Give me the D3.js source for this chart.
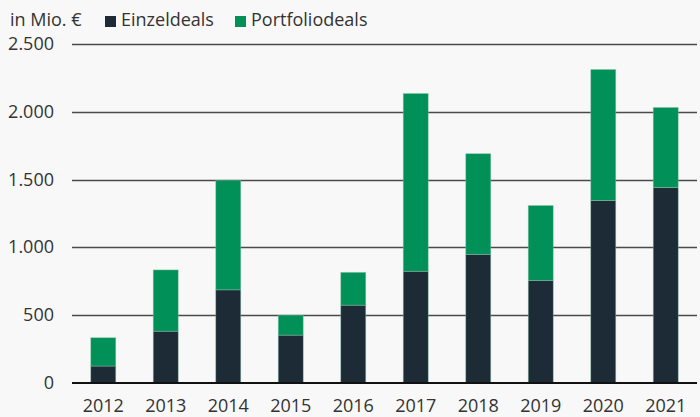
<!DOCTYPE html>
<html>
<head>
<meta charset="utf-8">
<script src="https://cdn.jsdelivr.net/npm/d3@7"></script>
<style>
  body { margin: 0; background: #f8f8f8; }
  svg { display: block; font-family: "Open Sans", sans-serif; }
</style>
</head>
<body>
<script>
// chart data
var years = ["2012", "2013", "2014", "2015", "2016", "2017", "2018", "2019", "2020", "2021"];
var einzeldeals = [125, 382, 687, 353, 574, 824, 949, 757, 1346, 1441];
var portfoliodeals = [209, 452, 808, 147, 242, 1311, 742, 552, 966, 591];
var yTicks = [0, 500, 1000, 1500, 2000, 2500];
var seriesNames = ["Einzeldeals", "Portfoliodeals"];
var colors = ["#1c2b36", "#009058"];

var width = 700, height = 417;
var margin = { top: 44, right: 3, bottom: 34, left: 72 };

var svg = d3.select("body").append("svg")
    .attr("width", width)
    .attr("height", height);

svg.append("rect")
    .attr("width", width)
    .attr("height", height)
    .attr("fill", "#f8f8f8");

var x = d3.scaleBand()
    .domain(years)
    .range([margin.left, width - margin.right])
    .paddingInner(0.6)
    .paddingOuter(0.3);

var y = d3.scaleLinear()
    .domain([0, 2500])
    .range([height - margin.bottom, margin.top]);

// gridlines
svg.selectAll(".grid")
    .data(yTicks.filter(function(d) { return d > 0; }))
    .enter().append("line")
    .attr("class", "grid")
    .attr("x1", margin.left)
    .attr("x2", width - margin.right)
    .attr("y1", function(d) { return Math.round(y(d)) + 0.5; })
    .attr("y2", function(d) { return Math.round(y(d)) + 0.5; })
    .attr("stroke", "#4a4a4a")
    .attr("stroke-width", 1.3);

// y labels
svg.selectAll(".ylab")
    .data(yTicks)
    .enter().append("text")
    .attr("class", "ylab")
    .attr("x", 54)
    .attr("y", function(d) { return y(d) + 6; })
    .attr("text-anchor", "end")
    .attr("font-size", 18)
    .attr("fill", "#333")
    .text(function(d) { return d3.format(",")(d).replace(/,/g, "."); });

// stacked bars
var rows = years.map(function(yr, i) {
    return { year: yr, Einzeldeals: einzeldeals[i], Portfoliodeals: portfoliodeals[i] };
});
var stack = d3.stack().keys(seriesNames)(rows);

svg.selectAll(".series")
    .data(stack)
    .enter().append("g")
    .attr("fill", function(d, i) { return colors[i]; })
    .selectAll("rect")
    .data(function(d) { return d; })
    .enter().append("rect")
    .attr("x", function(d) { return x(d.data.year); })
    .attr("width", x.bandwidth())
    .attr("y", function(d) { return y(d[1]); })
    .attr("height", function(d) { return y(d[0]) - y(d[1]); })
    .attr("stroke", "#8fc7b0")
    .attr("stroke-opacity", 0.5)
    .attr("stroke-width", 0.8);

// baseline
svg.append("line")
    .attr("x1", margin.left)
    .attr("x2", width - margin.right)
    .attr("y1", y(0))
    .attr("y2", y(0))
    .attr("stroke", "#111")
    .attr("stroke-width", 2.2);

// x axis labels
svg.selectAll(".xlab")
    .data(years)
    .enter().append("text")
    .attr("class", "xlab")
    .attr("x", function(d) { return x(d) + x.bandwidth() / 2; })
    .attr("y", 412)
    .attr("text-anchor", "middle")
    .attr("font-size", 18)
    .attr("fill", "#333")
    .text(function(d) { return d; });

// unit and legend
svg.append("text")
    .attr("x", 10)
    .attr("y", 26)
    .attr("font-size", 18)
    .attr("fill", "#333")
    .text("in Mio. €");

var legendX = [105, 235];
var legend = svg.selectAll(".legend")
    .data(seriesNames)
    .enter().append("g")
    .attr("class", "legend")
    .attr("transform", function(d, i) { return "translate(" + legendX[i] + ",0)"; });

legend.append("rect")
    .attr("x", 0)
    .attr("y", 16)
    .attr("width", 11)
    .attr("height", 11)
    .attr("fill", function(d, i) { return colors[i]; });

legend.append("text")
    .attr("x", 16)
    .attr("y", 26)
    .attr("font-size", 18)
    .attr("fill", "#333")
    .text(function(d) { return d; });
</script>
</body>
</html>
